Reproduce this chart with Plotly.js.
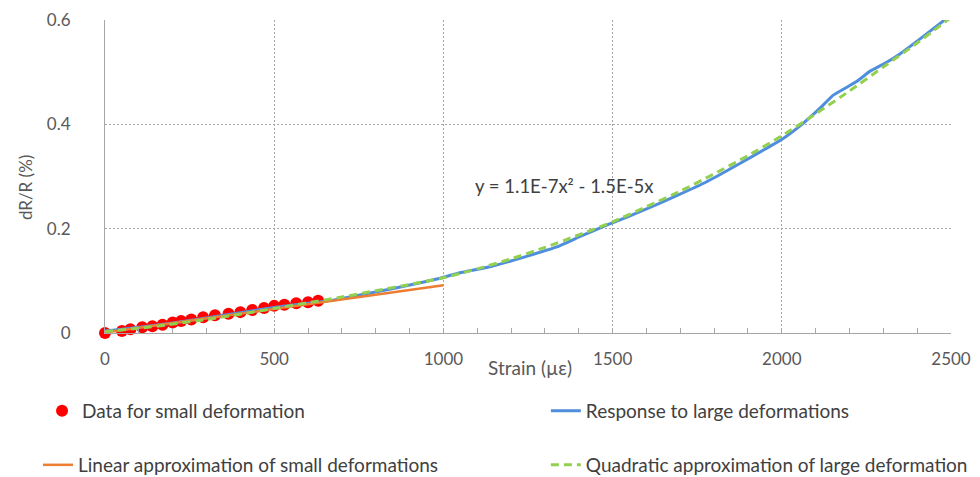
<!DOCTYPE html>
<html>
<head>
<meta charset="utf-8">
<script src="https://cdn.plot.ly/plotly-3.0.1.min.js"></script>
<style>html,body{margin:0;padding:0;background:#fff;}#chart{width:980px;height:477px;}</style>
</head>
<body>
<div id="chart"></div>
<script>
// Small-deformation measured points
const smallStrain = [0, 50, 75, 110, 140, 170, 200, 225, 255, 290, 325, 365, 400, 435, 470, 500, 530, 565, 600, 630];
const smallDR = [0, 0.004, 0.007, 0.011, 0.013, 0.016, 0.020, 0.023, 0.026, 0.030, 0.034, 0.037, 0.040, 0.044, 0.048, 0.052, 0.054, 0.057, 0.059, 0.062];

// Response to large deformations
const largeStrain = [0, 50, 100, 200, 300, 400, 500, 600, 674, 803, 901, 990, 1049, 1138, 1236, 1335, 1404, 1472, 1507, 1581, 1699, 1778, 1876, 2004, 2063, 2113, 2152, 2221, 2261, 2310, 2349, 2399, 2487];
const largeDR = [0.004, 0.007, 0.011, 0.019, 0.029, 0.039, 0.049, 0.057, 0.063, 0.079, 0.092, 0.105, 0.1156, 0.127, 0.145, 0.165, 0.185, 0.204, 0.213, 0.2325, 0.266, 0.29, 0.325, 0.373, 0.402, 0.431, 0.456, 0.482, 0.502, 0.519, 0.535, 0.559, 0.603];

// Linear approximation of small deformations
const linStrain = [0, 1000];
const linDR = [0.001, 0.0915];

// Quadratic approximation of large deformation
const quadStrain = [0, 100, 200, 300, 400, 500, 600, 700, 800, 900, 1000, 1100, 1200, 1300, 1400, 1500, 1600, 1700, 1800, 1900, 2000, 2100, 2200, 2300, 2400, 2500];
const quadDR = [0.003, 0.009, 0.017, 0.026, 0.036, 0.047, 0.058, 0.069, 0.081, 0.093, 0.106, 0.123, 0.142, 0.164, 0.188, 0.213, 0.242, 0.272, 0.305, 0.34, 0.378, 0.42, 0.464, 0.51, 0.556, 0.605];

const xTicks = [0, 500, 1000, 1500, 2000, 2500];
const yTicks = [0, 0.2, 0.4, 0.6];
const yTickText = ["0", "0.2", "0.4", "0.6"];

const names = ["Data for small deformation", "Response to large deformations", "Linear approximation of small deformations", "Quadratic approximation of large deformation"];
const equation = "y = 1.1E-7x² - 1.5E-5x";

const traces = [
  {x: smallStrain, y: smallDR, name: names[0], type: "scatter", mode: "markers",
   marker: {color: "#ff0000", size: 12}, cliponaxis: false, legend: "legend"},
  {x: largeStrain, y: largeDR, name: names[1], type: "scatter", mode: "lines",
   line: {color: "#4f8edc", width: 3, shape: "spline", smoothing: 0.3}, legend: "legend2"},
  {x: linStrain, y: linDR, name: names[2], type: "scatter", mode: "lines",
   line: {color: "#ed7d31", width: 2.5}, legend: "legend3"},
  {x: quadStrain, y: quadDR, name: names[3], type: "scatter", mode: "lines",
   line: {color: "#92d050", width: 3, dash: "8px,5px", shape: "spline", smoothing: 0.6}, legend: "legend4"}
];

const legendFont = {family: "Lato, sans-serif", size: 19, color: "#404040"};
function leg(x, y) {
  return {orientation: "v", xref: "container", yref: "container", x: x, y: y,
    xanchor: "left", yanchor: "middle", font: legendFont, bgcolor: "rgba(0,0,0,0)"};
}

const layout = {
  width: 980, height: 477,
  margin: {l: 105, r: 29, t: 20, b: 144, autoexpand: false},
  paper_bgcolor: "#ffffff", plot_bgcolor: "#ffffff",
  font: {family: "Lato, sans-serif", size: 17, color: "#595959"},
  showlegend: true,
  xaxis: {
    range: [0, 2500], tickvals: xTicks, ticktext: xTicks.map(String),
    showgrid: true, gridcolor: "#a6a6a6", griddash: "2px,2px", gridwidth: 1,
    showline: true, linecolor: "#a6a6a6", linewidth: 1,
    ticks: "inside", ticklen: 5, tickcolor: "#a6a6a6",
    minor: {dtick: 100, ticks: "inside", ticklen: 5, tickcolor: "#a6a6a6", showgrid: false},
    zeroline: false, ticklabelstandoff: 11, tickangle: 0, automargin: false,
    tickfont: {family: "Lato, sans-serif", size: 17, color: "#595959"}
  },
  yaxis: {
    range: [0, 0.6], tickvals: yTicks, ticktext: yTickText,
    showgrid: true, gridcolor: "#a6a6a6", griddash: "2px,2px", gridwidth: 1,
    showline: true, linecolor: "#a6a6a6", linewidth: 1,
    ticks: "", zeroline: false, ticklabelstandoff: 30, automargin: false,
    tickfont: {family: "Lato, sans-serif", size: 17, color: "#595959"}
  },
  legend: leg(0.0429, 0.1384),
  legend2: leg(0.557, 0.1384),
  legend3: leg(0.0388, 0.0252),
  legend4: leg(0.557, 0.0252),
  annotations: [
    {text: "Strain (µε)", xref: "paper", yref: "paper", x: 0.502, y: -0.11,
     xanchor: "center", yanchor: "middle", showarrow: false,
     font: {family: "Lato, sans-serif", size: 19, color: "#595959"}},
    {text: "dR/R (%)", xref: "paper", yref: "paper", x: -0.0946, y: 0.466,
     xanchor: "center", yanchor: "middle", showarrow: false, textangle: -90,
     font: {family: "Lato, sans-serif", size: 17, color: "#595959"}},
    {text: equation, xref: "paper", yref: "paper", x: (564 - 105) / 846, y: (333 - 186) / 313,
     xanchor: "center", yanchor: "middle", showarrow: false,
     font: {family: "Lato, sans-serif", size: 18.5, color: "#404040"}}
  ]
};

Plotly.newPlot("chart", traces, layout, {displayModeBar: false, staticPlot: true});
</script>
</body>
</html>
